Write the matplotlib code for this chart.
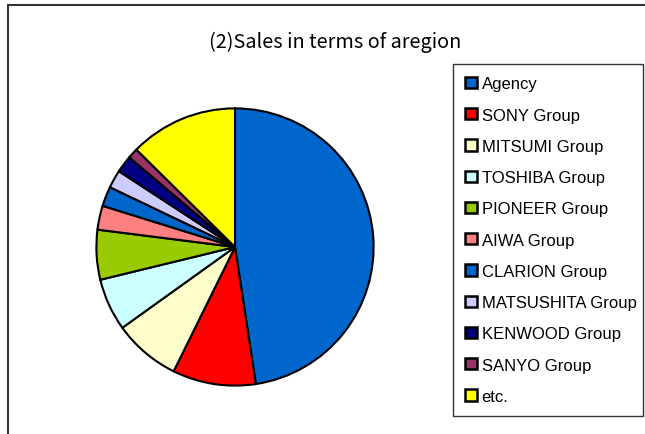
import matplotlib
matplotlib.use("Agg")
import matplotlib.pyplot as plt
from matplotlib.patches import Rectangle

plt.rcParams['font.family'] = ['Liberation Sans', 'DejaVu Sans']

# data (share of sales, %)
labels = ['Agency', 'SONY Group', 'MITSUMI Group', 'TOSHIBA Group', 'PIONEER Group',
          'AIWA Group', 'CLARION Group', 'MATSUSHITA Group', 'KENWOOD Group',
          'SANYO Group', 'etc.']
shares = [47.6, 9.7, 7.8, 6.1, 5.8, 2.8, 2.3, 2.1, 2.0, 1.2, 12.6]
colors = ['#0066CC', '#FF0000', '#FFFFCC', '#CCFFFF', '#99CC00', '#FF8080',
          '#0066CC', '#CCCCFF', '#000080', '#993366', '#FFFF00']
title = '(2)Sales in terms of aregion'

W, H = 645, 435
fig = plt.figure(figsize=(W / 100, H / 100), dpi=100)

# outer chart frame (runs off the right and bottom of the picture)
fig.patches.append(Rectangle((8 / W, -0.05), 1.2, 1 - 6 / H + 0.05,
                             transform=fig.transFigure, fill=False,
                             edgecolor='#333333', linewidth=1.5))

# pie: centre (235, 248), radius 140 px
cx, cy, r = 235, 248, 140
ax = fig.add_axes([(cx - r) / W, (H - cy - r) / H, 2 * r / W, 2 * r / H])
wedges, _ = ax.pie(shares, colors=colors, startangle=90, counterclock=False,
                   wedgeprops=dict(edgecolor='black', linewidth=1.5))
ax.set_xlim(-1.01, 1.01)
ax.set_ylim(-1.01, 1.01)
ax.set_aspect('auto')

fig.text(335 / W, 1 - 42 / H, title, ha='center', va='center', fontsize=14.3,
         family=['Noto Sans CJK JP', 'DejaVu Sans'])

leg = fig.legend(wedges, labels, loc='upper left',
                 bbox_to_anchor=(453 / W, 1 - 65 / H, (643 - 453) / W, 0.0),
                 mode='expand', fontsize=12, frameon=True, fancybox=False,
                 handlelength=0.68, handleheight=0.68, handletextpad=0.3,
                 labelspacing=0.975, borderpad=0.74, borderaxespad=0.0)
leg.get_frame().set_edgecolor('black')
leg.get_frame().set_linewidth(1.0)
for h in leg.legend_handles:
    h.set_linewidth(1.8)

fig.savefig('out.png', dpi=100)
